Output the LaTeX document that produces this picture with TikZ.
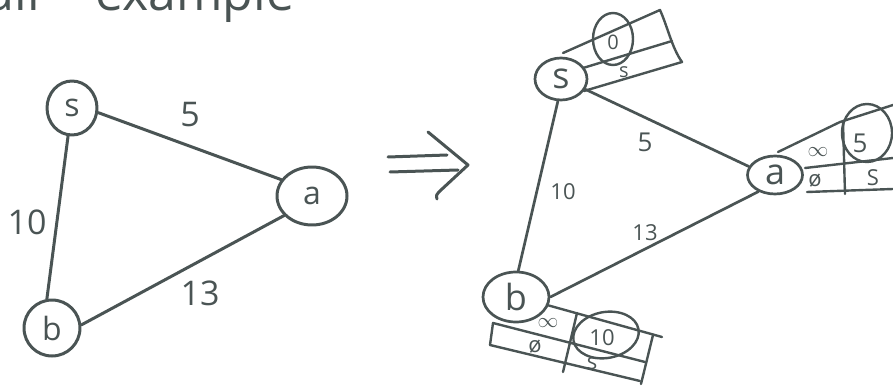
\documentclass[tikz,border=0pt]{standalone}
\usepackage{fontspec}
\setmainfont{Open Sans}
\usetikzlibrary{shapes.geometric}
\definecolor{ink}{RGB}{74,84,84}
\begin{document}
\begin{tikzpicture}[x=1pt,y=-1pt,line cap=round,line join=round]
  \tikzset{VertexStyle/.style = {shape          = ellipse,
                                 draw           = ink,
                                 line width     = 3pt,
                                 text           = ink,
                                 inner sep      = 0pt,
                                 font           = \fontsize{32}{32}\selectfont}}
  \tikzset{EdgeStyle/.style   = {draw           = ink,
                                 line width     = 3pt}}
  \tikzset{WeightStyle/.style = {text           = ink,
                                 inner sep      = 0pt,
                                 font           = \fontsize{34}{34}\selectfont}}
  \tikzset{TableStyle/.style  = {draw           = ink,
                                 line width     = 2.4pt}}
  \tikzset{EntryStyle/.style  = {text           = ink,
                                 inner sep      = 0pt,
                                 font           = \fontsize{22}{22}\selectfont}}

\useasboundingbox (0,0) rectangle (893,387);

% heading, mostly off the page
\node[WeightStyle, font=\fontsize{50}{50}\selectfont, anchor=base east] (title1) at (40,11) {small};
\node[WeightStyle, font=\fontsize{50}{50}\selectfont, anchor=base west] (title2) at (95,11) {example};

% the small graph
\node[VertexStyle, minimum width=50, minimum height=54] (s) at (72,108) {s};
\node[VertexStyle, minimum width=70, minimum height=58] (a) at (312,196) {a};
\node[VertexStyle, minimum width=56, minimum height=56] (b) at (52,328) {b};

\draw[EdgeStyle] (s.350) -- (a.152);
\draw[EdgeStyle] (s.262) -- (b.100);
\draw[EdgeStyle] (b.6) -- (a.215);

\node[WeightStyle] (w1) at (190,115) {5};
\node[WeightStyle] (w2) at (27,222) {10};
\node[WeightStyle] (w3) at (200,293) {13};

% the big arrow
\draw[EdgeStyle] (388,157) -- (447,155);
\draw[EdgeStyle] (390,172) -- (458,170);
\draw[EdgeStyle] (428,132) -- (468,165) -- (441,190) .. controls (436,195) .. (437,199);

% the same graph, with a table at every vertex
\tikzset{EdgeStyle/.append style = {line width = 2.7pt}}
\tikzset{VertexStyle/.append style = {line width = 2.7pt, font = \fontsize{36}{36}\selectfont}}

\node[VertexStyle, minimum width=52, minimum height=42] (s2) at (561,79) {s};
\node[VertexStyle, minimum width=55, minimum height=38] (a2) at (775,175) {a};
\node[VertexStyle, minimum width=66, minimum height=50] (b2) at (516,297) {b};

\draw[EdgeStyle] (s2.337) -- (a2.162);
\draw[EdgeStyle] (s2.262) -- (b2.85);
\draw[EdgeStyle] (b2.east) -- (a2.225);

\node[WeightStyle, font=\fontsize{26}{26}\selectfont] (v1) at (645,142) {5};
\node[WeightStyle, font=\fontsize{22}{22}\selectfont] (v2) at (563,192) {10};
\node[WeightStyle, font=\fontsize{22}{22}\selectfont] (v3) at (645,233) {13};

% table at s
\coordinate (S1) at (563,53);
\coordinate (S2) at (660,10);
\coordinate (S3) at (583,68);
\coordinate (S4) at (672,41);
\coordinate (S5) at (584,91);
\coordinate (S6) at (682,62);

\draw[TableStyle] (S1) -- (S2) .. controls (668,28) and (672,48) .. (S6) -- (S5);
\draw[TableStyle] (S3) -- (S4);
\draw[TableStyle] (613,39) ellipse (20 and 26);
\node[EntryStyle, font=\fontsize{20}{20}\selectfont] (ds) at (613,42) {0};
\node[EntryStyle, font=\fontsize{20}{20}\selectfont] (ps) at (624,72) {s};

% table at a
\coordinate (A1) at (778,152);
\coordinate (A2) at (840,122);
\coordinate (A3) at (893,105);
\coordinate (A4) at (805,168);
\coordinate (A5) at (893,158);
\coordinate (A6) at (807,192);
\coordinate (A7) at (893,189);

\draw[TableStyle] (A1) -- (A2) -- (A3);
\draw[TableStyle] (A4) -- (A5);
\draw[TableStyle] (A6) -- (A7);
\draw[TableStyle] (843,122) -- (845,194);
\draw[TableStyle] (867,133) ellipse (25 and 29);
\node[EntryStyle] (da) at (818,152) {$\infty$};
\node[EntryStyle, font=\fontsize{26}{26}\selectfont] (na) at (860,143) {5};
\node[EntryStyle] (pa) at (815,181) {ø};
\node[EntryStyle] (qa) at (873,178) {S};

% table at b
\coordinate (B1) at (547,305);
\coordinate (B2) at (662,337);
\coordinate (B3) at (493,323);
\coordinate (B4) at (645,362);
\coordinate (B5) at (490,345);
\coordinate (B6) at (640,381);

\draw[TableStyle] (B1) -- (B2);
\draw[TableStyle] (B5) -- (B3) -- (B4);
\draw[TableStyle] (B5) -- (B6);
\draw[TableStyle] (577,313) -- (563,372);
\draw[TableStyle] (653,335) -- (641,384);
\draw[TableStyle, rotate around={10:(606,335)}] (606,335) ellipse (33 and 23);
\node[EntryStyle] (db) at (548,323) {$\infty$};
\node[EntryStyle] (nb) at (602,338) {10};
\node[EntryStyle] (pb) at (535,347) {ø};
\node[EntryStyle] (qb) at (592,364) {s};
\end{tikzpicture}
\end{document}
